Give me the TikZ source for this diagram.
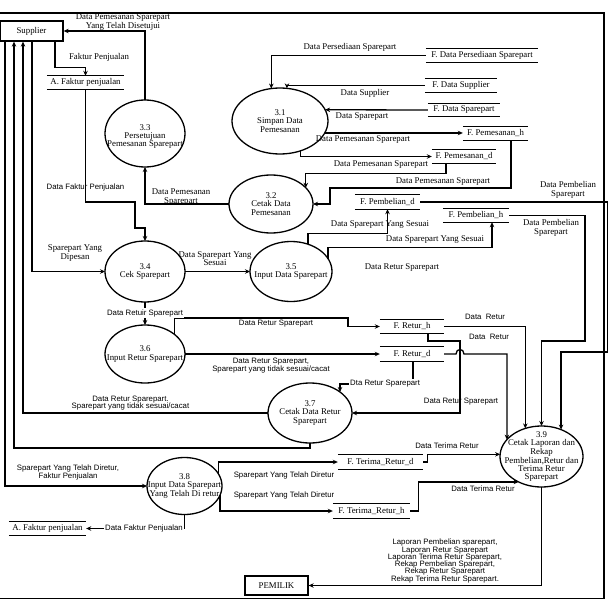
\documentclass[tikz,border=0pt]{standalone}
\usepackage{fontspec}
\setmainfont{Liberation Serif}
\newfontfamily\sansf{Liberation Sans}
\usetikzlibrary{shapes.geometric,arrows.meta,calc}
\tikzset{
 lw/.style={line width=1.3pt},
 arr/.style={lw,-{Stealth[length=5pt,width=4.5pt]}},
 proc/.style={ellipse,draw,lw,inner sep=0pt,outer sep=0pt},
 ptext/.style={font=\fontsize{8.8}{8.2}\selectfont,align=center,inner sep=0pt},
 ext/.style={draw,lw,rectangle,minimum width=63pt,inner sep=0pt,font=\fontsize{8.8}{9}\selectfont},
 stxt/.style={rectangle,inner sep=0pt,font=\fontsize{8.8}{9}\selectfont},
 lbl/.style={font=\fontsize{8.8}{8.6}\selectfont,align=center,inner sep=0pt},
 slbl/.style={font=\sansf\fontsize{7.8}{7.3}\selectfont,align=center,inner sep=0pt},
 wbg/.style={fill=white,inner xsep=1pt,inner ysep=1pt},
}
\newcommand{\dstore}[6]{%
 \node[stxt,minimum width=#4pt,minimum height=#5pt] (#1) at (#2,#3) {#6};
 \draw[lw] (#1.north west) -- (#1.north east) (#1.south west) -- (#1.south east);}
\begin{document}
\begin{tikzpicture}[x=1pt,y=-1pt]
\useasboundingbox (0,0) rectangle (610,602);
% outer frame
\draw[lw] (0,13) -- (604,13) -- (604,598.5) -- (0,598.5);

% external entities
\node[ext,minimum height=20pt] (Supplier) at (31.5,31) {Supplier};
\node[ext,minimum height=19pt] (PEMILIK) at (276.5,585.5) {PEMILIK};

% data stores
\dstore{A1}{85.5}{82.5}{77}{13}{A. Faktur penjualan}
\dstore{FPers}{482}{55.5}{112}{13}{F. Data Persediaan Sparepart}
\dstore{FSup}{461}{85.5}{72}{13}{F. Data Supplier}
\dstore{FSpare}{464}{110}{72}{13}{F. Data Sparepart}
\dstore{FPh}{495.5}{133.5}{65}{13}{F. Pemesanan\_h}
\dstore{FPd}{464}{156.5}{64}{13}{F. Pemesanan\_d}
\dstore{FBd}{387.5}{202}{65}{14}{F. Pembelian\_d}
\dstore{FBh}{476}{215.5}{66}{13}{F. Pembelian\_h}
\dstore{FRh}{412}{326.5}{64}{13}{F. Retur\_h}
\dstore{FRd}{412}{354}{64}{14}{F. Retur\_d}
\dstore{FTd}{380.5}{462}{85}{14}{F. Terima\_Retur\_d}
\dstore{FTh}{371.5}{511}{77}{14}{F. Terima\_Retur\_h}
\dstore{A2}{47.5}{528.5}{77}{13}{A. Faktur penjualan}

% processes
\node[proc,minimum width=96pt,minimum height=66pt,label={[ptext]center:{3.1\\Simpan Data\\Pemesanan}}] (P31) at (280,121) {};
\node[proc,minimum width=84pt,minimum height=58pt,label={[ptext]center:{3.2\\Cetak Data\\Pemesanan}}] (P32) at (271,204) {};
\node[proc,minimum width=80pt,minimum height=67pt,label={[ptext,yshift=-3pt]center:{3.3\\Persetujuan\\Pemesanan Sparepart}}] (P33) at (145,133.5) {};
\node[proc,minimum width=80pt,minimum height=61pt,label={[ptext]center:{3.4\\Cek Sparepart}}] (P34) at (145,271.5) {};
\node[proc,minimum width=82pt,minimum height=60pt,label={[ptext]center:{3.5\\Input Data Sparepart}}] (P35) at (291,271.5) {};
\node[proc,minimum width=80pt,minimum height=58pt,label={[ptext]center:{3.6\\Input Retur Sparepart}}] (P36) at (145,354) {};
\node[proc,minimum width=84pt,minimum height=60pt,label={[ptext]center:{3.7\\Cetak Data Retur\\Sparepart}}] (P37) at (310,413) {};
\node[proc,minimum width=75pt,minimum height=57pt,label={[ptext]center:{3.8\\Input Data Sparepart\\Yang Telah Di retur}}] (P38) at (184.5,486) {};
\node[proc,minimum width=83pt,minimum height=61pt,label={[ptext,font=\fontsize{8.8}{7.7}\selectfont]center:{3.9\\Cetak Laporan dan\\Rekap\\Pembelian,Retur dan\\Terima Retur\\Sparepart}}] (P39) at (541.5,456.5) {};

% flows
\draw[arr] (P33.north) |- (Supplier.east);
\draw[arr] ([xshift=23.5pt]Supplier.south) |- ([yshift=8pt]A1.north) -- (A1.north);
\draw[arr] (A1.south) |- (135,202) |- ([yshift=13pt]P34.north) -- (P34.north);
\draw[arr] ([xshift=0.5pt]Supplier.south) |- (P34.west);
\draw[arr] (P32.west) -| (P33.south);
\draw[arr] (FPers.west) -| (P31.105);
\draw[arr] (FSup.west) -| (P31.78);
\draw[arr] (FSpare.west) -- (P31.14);
\draw[arr] (P31.345) -- (P31.345 -| FPh.west);
\draw[arr] (P31.304) |- (FPd.west);
\draw[arr] ([xshift=-18pt]FPd.south) -- ++(0,10.5) -| (P32.25);
\draw[arr] ([xshift=15.5pt]FPh.south) |- (330,188) |- (P32.east);
\draw[arr] (P34.east) -- (P35.west);
\draw[arr] (P35.58) |- ([yshift=-24pt]FBd.south) -- (FBd.south);
\draw[arr] (P35.19) |- ([xshift=16pt,yshift=-25pt]FBh.south) -- ([xshift=16pt]FBh.south);
\draw[arr] (FBd.east) -| (607.5,352) -| (P39.54);
\draw[arr] (FBh.east) -| (585,341) -| (P39.north);
\draw[arr] (P34.south) -- (P36.north);
\draw[arr] (P36.33) |- (348,318) |- (FRh.west);
\draw[arr] (P36.east) -- (FRd.west);
\draw[arr] (FRh.east) -| (P39.120);
\draw[arr] (FRd.east) -- (456,354) .. controls (456,348) and (464,348) .. (464,354) -| (P39.154);
\draw[arr] ([xshift=16pt]FRh.south) |- (460,341) |- (P37.east);
\draw[arr] ([xshift=1pt]FRd.south) |- ([yshift=8pt]P37.35) -- (P37.35);
\draw[arr] (P37.west) -| ([xshift=-8.5pt]Supplier.south);
\draw[arr] (P37.south) -- ++(0,5) -| ([xshift=-17.5pt]Supplier.south);
\draw[arr] ([xshift=-26.5pt]Supplier.south) |- (P38.west);
\draw[arr] (P38.19) |- (FTd.west);
\draw[arr] (P38.345) |- (FTh.west);
\draw[arr] (P38.south) |- (A2.east);
\draw[arr] (FTd.east) -- ++(4,0) |- (P39.177);
\draw[arr] (FTh.east) -- ++(8,0) |- (P39.228);
\draw[arr] (P39.south) |- (PEMILIK.east);

% labels
\node[lbl] (t1) at (123,22) {Data Pemesanan Sparepart\\Yang Telah Disetujui};
\node[lbl] (t2) at (99,57) {Faktur Penjualan};
\node[slbl] (t3) at (85.5,187.5) {Data Faktur Penjualan};
\node[lbl] (t4) at (75,253) {Sparepart Yang\\Dipesan};
\node[lbl] (t5) at (181,197) {Data Pemesanan\\Sparepart};
\node[lbl] (t6) at (350,47) {Data Persediaan Sparepart};
\node[lbl] (t7) at (365,93) {Data Supplier};
\node[lbl] (t8) at (362,117) {Data Sparepart};
\node[lbl] (t9) at (363,140) {Data Pemesanan Sparepart};
\node[lbl] (t10) at (381,165) {Data Pemesanan Sparepart};
\node[lbl] (t11) at (443,182) {Data Pemesanan Sparepart};
\node[lbl] (t12) at (215,258.5) {Data Sparepart Yang\\Sesuai};
\node[lbl] (t13) at (380,225) {Data Sparepart Yang Sesuai};
\node[lbl] (t14) at (435,240) {Data Sparepart Yang Sesuai};
\node[lbl] (t15) at (402,268) {Data Retur Sparepart};
\node[lbl] (t16) at (568,190) {Data Pembelian\\Sparepart};
\node[lbl] (t17) at (551,228) {Data Pembelian\\Sparepart};
\node[slbl,wbg] (t18) at (145,313) {Data Retuir Sparepart};
\node[slbl] (t19) at (276,324) {Data Retur Sparepart};
\node[slbl] (t20) at (271,365.5) {Data Retur Sparepart,\\Sparepart yang tidak sesuai/cacat};
\node[slbl] (t21) at (485,317) {Data~ Retur};
\node[slbl] (t22) at (489,337) {Data~ Retur};
\node[slbl] (t23) at (461,402) {Data Retur Sparepart};
\node[slbl,wbg,anchor=west] (t24) at (349,384) {Dta Retur Sparepart};
\node[slbl] (t25) at (130.5,403) {Data Retur Sparepart.\\Sparepart yang tidak sesuai/cacat};
\node[slbl] (t26) at (68,472.5) {Sparepart Yang Telah Diretur,\\Faktur Penjualan};
\node[slbl] (t27) at (284,475) {Sparepart Yang Telah Diretur};
\node[slbl] (t28) at (284,495) {Sparepart Yang Telah Diretur};
\node[slbl,wbg] (t29) at (144,528) {Data Faktur Penjualan};
\node[slbl] (t30) at (447,446) {Data Terima Retur};
\node[slbl] (t31) at (483,489) {Data Terima Retur};
\node[slbl] (t32) at (445,561) {Laporan Pembelian sparepart,\\Laporan Retur Sparepart\\Laporan Terima Retur Sparepart,\\Rekap Pembelian Sparepart,\\Rekap Retur Sparepart\\Rekap Terima Retur Sparepart.};
\end{tikzpicture}
\end{document}
